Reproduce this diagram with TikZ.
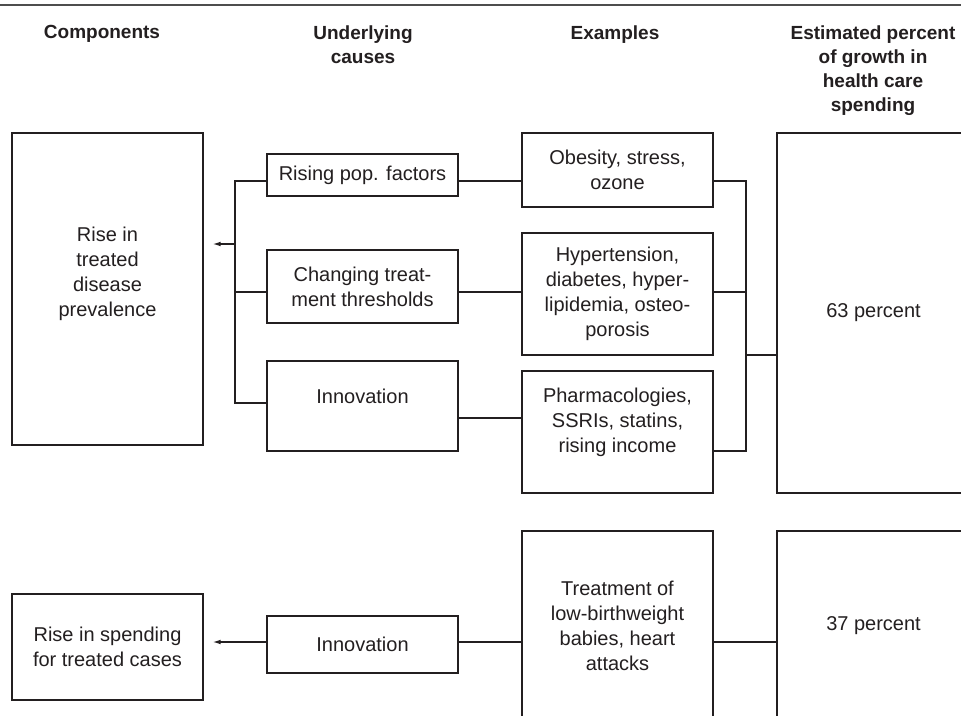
\documentclass[tikz,border=0pt]{standalone}
\usepackage{fontspec}
\setmainfont{Liberation Sans}
\usetikzlibrary{arrows.meta,calc}
\definecolor{ink}{HTML}{231F20}
\definecolor{ruleGray}{HTML}{4D4D4D}

\begin{document}
\begin{tikzpicture}[
    x=0.75pt, y=-0.75pt,
    headText/.style={font=\fontsize{14.25}{18.2}\selectfont\bfseries, text=ink, align=center, inner sep=0pt, anchor=north},
    plainBox/.style={rectangle, draw=ink, line width=1.1pt, fill=white, text=ink, font=\fontsize{15}{18.75}\selectfont, align=center, minimum width=143.25pt, inner sep=0pt},
    boxLabel/.style={text=ink, font=\fontsize{15}{18.75}\selectfont, align=center, inner sep=0pt},
    linkStyle/.style={line width=0.95pt, draw=ink},
    arrowStyle/.style={-{Latex[length=6pt,width=3.6pt]}, line width=0.95pt, draw=ink}
]
    \useasboundingbox (0,0) rectangle (961,715);
    \clip (0,0) rectangle (961,715);
    \fill[white] (0,0) rectangle (961,715);
    \draw[ruleGray, line width=1.5pt] (0,5) -- (961,5);

    \node[headText] (hComp) at (102,25) {Components};
    \node[headText] (hCause) at (363,25) {Underlying\\causes};
    \node[headText] (hEx) at (615,25) {Examples};
    \node[headText] (hPct) at (873,25) {Estimated percent\\of growth in\\health care\\spending};

    \node[plainBox, minimum height=234pt, label={[boxLabel, yshift=11.25pt]center:{Rise in\\treated\\disease\\prevalence}}] (prev) at (107.5,289) {};
    \node[plainBox, minimum height=31.5pt] (popf) at (362.5,175) {Rising pop. factors};
    \node[plainBox, minimum height=54.75pt] (thresh) at (362.5,286.5) {Changing treat-\\ment thresholds};
    \node[plainBox, minimum height=67.5pt, label={[boxLabel, yshift=7.5pt]center:Innovation}] (innov) at (362.5,406) {};
    \node[plainBox, minimum height=55.5pt] (obes) at (617.5,170) {Obesity, stress,\\ozone};
    \node[plainBox, minimum height=91.5pt] (hyper) at (617.5,294) {Hypertension,\\diabetes, hyper-\\lipidemia, osteo-\\porosis};
    \node[plainBox, minimum height=91.5pt, label={[boxLabel, yshift=7.5pt]center:{Pharmacologies,\\SSRIs, statins,\\rising income}}] (pharm) at (617.5,432) {};
    \node[plainBox, minimum width=144.75pt, minimum height=270pt] (pctA) at (873.5,313) {63 percent};

    \node[plainBox, minimum height=79.5pt] (spend) at (107.5,647) {Rise in spending\\for treated cases};
    \node[plainBox, minimum height=42.75pt] (innovB) at (362.5,644.5) {Innovation};
    \node[plainBox, minimum height=142.5pt] (birth) at (617.5,626) {Treatment of\\low-birthweight\\babies, heart\\attacks};
    \node[plainBox, minimum width=144.75pt, minimum height=142.5pt] (pctB) at (873.5,626) {37 percent};

    \coordinate (trunkL) at (235,0);
    \coordinate (trunkR) at (746,0);
    \coordinate (rowPop) at (0,181);
    \coordinate (rowArr) at (0,244);
    \coordinate (rowThr) at (0,292);
    \coordinate (rowMerge) at (0,355);
    \coordinate (rowInnL) at (0,403);
    \coordinate (rowInnR) at (0,418);
    \coordinate (rowPh) at (0,451);
    \coordinate (rowBot) at (0,642);

    \draw[linkStyle] (popf.west |- rowPop) -| (trunkL |- rowInnL) -- (innov.west |- rowInnL);
    \draw[linkStyle] (thresh.west |- rowThr) -- (trunkL |- rowThr);
    \draw[arrowStyle] (trunkL |- rowArr) -- ($(prev.east |- rowArr)+(9,0)$);
    \draw[linkStyle] (popf.east |- rowPop) -- (obes.west |- rowPop);
    \draw[linkStyle] (thresh.east |- rowThr) -- (hyper.west |- rowThr);
    \draw[linkStyle] (innov.east |- rowInnR) -- (pharm.west |- rowInnR);
    \draw[linkStyle] (obes.east |- rowPop) -| (trunkR |- rowPh) -- (pharm.east |- rowPh);
    \draw[linkStyle] (hyper.east |- rowThr) -- (trunkR |- rowThr);
    \draw[linkStyle] (trunkR |- rowMerge) -- (pctA.west |- rowMerge);

    \draw[arrowStyle] (innovB.west |- rowBot) -- ($(spend.east |- rowBot)+(9,0)$);
    \draw[linkStyle] (innovB.east |- rowBot) -- (birth.west |- rowBot);
    \draw[linkStyle] (birth.east |- rowBot) -- (pctB.west |- rowBot);
\end{tikzpicture}
\end{document}
